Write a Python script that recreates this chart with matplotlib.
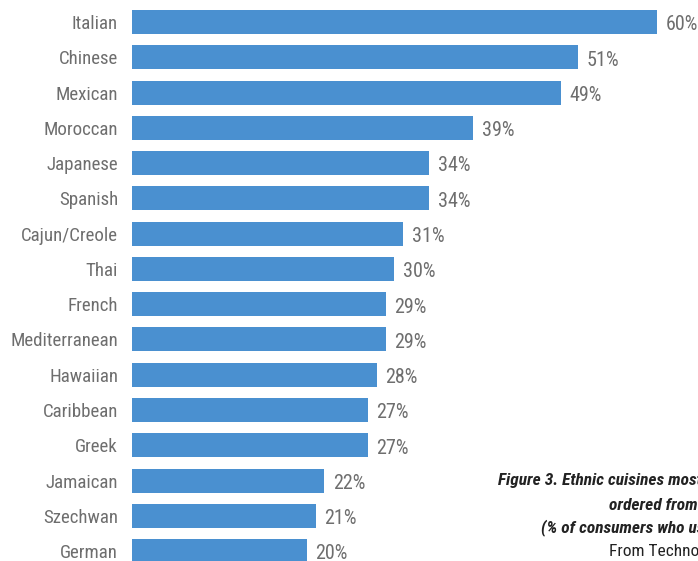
import matplotlib.pyplot as plt
from matplotlib import font_manager

cuisines = ["Italian", "Chinese", "Mexican", "Moroccan", "Japanese", "Spanish",
            "Cajun/Creole", "Thai", "French", "Mediterranean", "Hawaiian",
            "Caribbean", "Greek", "Jamaican", "Szechwan", "German"]
shares = [60, 51, 49, 39, 34, 34, 31, 30, 29, 29, 28, 27, 27, 22, 21, 20]

names = {f.name for f in font_manager.fontManager.ttflist}
fam = "Roboto"
for cand in ["Roboto Condensed", "Liberation Sans Narrow", "Open Sans Condensed"]:
    if cand in names:
        fam = cand
        break
plt.rcParams['font.family'] = [fam, 'DejaVu Sans']

fig = plt.figure(figsize=(6.98, 5.61), dpi=100)
ax = fig.add_axes([132 / 698, 0, 1 - 132 / 698, 1])

pos = list(range(len(cuisines)))
ax.barh(pos, shares, height=0.68, color="#4a90d0")
ax.set_xlim(0, 64.69)
ax.set_ylim(15.28, -0.624)
ax.set_yticks(pos)
ax.set_yticklabels(cuisines, fontsize=13.6, color="#6e6e6e")
ax.tick_params(axis='y', length=0, pad=10)
ax.set_xticks([])
for s in ax.spines.values():
    s.set_visible(False)

for p, v in zip(pos, shares):
    ax.text(v + 0.95, p + 0.08, f"{v}%", va="center", ha="left", fontsize=14.5, color="#6e6e6e")

cap = dict(fontsize=12.5, color="#222222", fontweight="bold", style="italic", va="center")
fig.text(498 / 698, 1 - 480 / 561, "Figure 3. Ethnic cuisines most commonly", **cap)
fig.text(609 / 698, 1 - 505 / 561, "ordered from restaurants", **cap)
fig.text(541 / 698, 1 - 528 / 561, "(% of consumers who usually order)", **cap)
fig.text(609 / 698, 1 - 551 / 561, "From Technomic", fontsize=12.5, color="#222222", va="center")

fig.savefig("out.png", dpi=100)
